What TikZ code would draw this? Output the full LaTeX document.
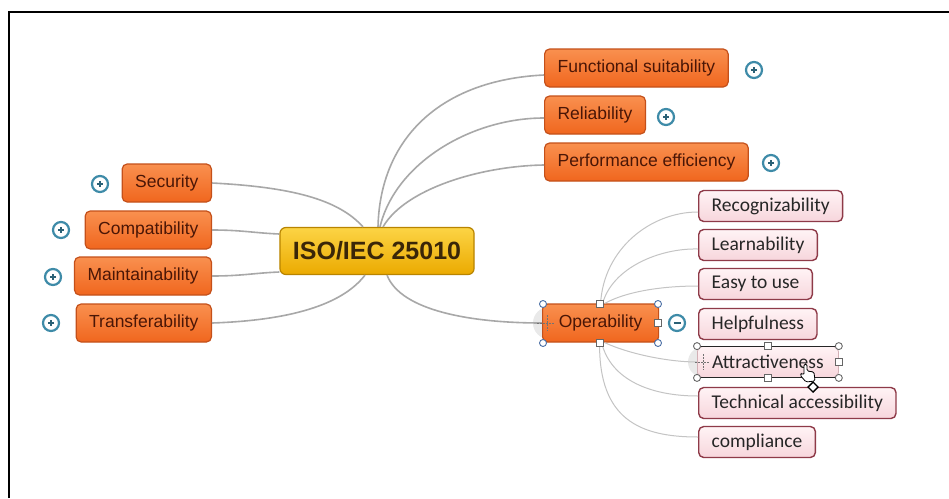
\documentclass[tikz,border=0pt]{standalone}
\usepackage{fontspec}
\setmainfont{Liberation Sans}
\newfontfamily\subfont{Carlito}
\definecolor{orgB}{HTML}{C4501A}
\definecolor{orgT}{HTML}{F9904F}
\definecolor{orgM}{HTML}{F0661E}
\definecolor{orgTxt}{HTML}{4A1606}
\definecolor{gldB}{HTML}{B88400}
\definecolor{gldT}{HTML}{FCD445}
\definecolor{gldM}{HTML}{EBAA00}
\definecolor{gldTxt}{HTML}{3A2608}
\definecolor{pnkB}{HTML}{8E3A48}
\definecolor{pnkT}{HTML}{FFF3F5}
\definecolor{pnkM}{HTML}{F7D6DC}
\definecolor{icn}{HTML}{3E8BA8}
\definecolor{hnd}{HTML}{4A6FA5}
\definecolor{lnk}{HTML}{A8A8A8}
\definecolor{sublnk}{HTML}{C4C4C4}
\tikzset{
  cent/.style={draw=gldB, line width=1.2pt, rounded corners=6pt, top color=gldT, bottom color=gldM,
    text=gldTxt, font=\bfseries\fontsize{25}{27}\selectfont, minimum height=47pt, inner xsep=13pt, inner ysep=0pt},
  mainbox/.style={draw=orgB, line width=1.2pt, rounded corners=5pt, top color=orgT, bottom color=orgM,
    text=orgTxt, font=\fontsize{17.5}{19}\selectfont, minimum height=38pt, inner xsep=13pt, inner ysep=0pt},
  subbox/.style={draw=pnkB, line width=1.4pt, rounded corners=5pt, top color=pnkT, bottom color=pnkM,
    text=black!85, font=\subfont\fontsize{19.5}{21}\selectfont, minimum height=31pt, inner xsep=13pt, inner ysep=0pt, anchor=west},
  iconc/.style={circle, draw=icn, line width=2.2pt, fill=white, minimum size=16pt, inner sep=0pt},
  iconmark/.style={draw=icn!70!black, line width=1.4pt},
  link/.style={draw=lnk, line width=1.6pt},
  sublink/.style={draw=sublnk, line width=1pt},
  hcirc/.style={circle, draw=hnd, line width=0.9pt, fill=white, minimum size=7pt, inner sep=0pt},
  hsq/.style={rectangle, draw=black!60, line width=0.9pt, fill=white, minimum size=6.5pt, inner sep=0pt},
  halo/.style={circle, fill=black!12, opacity=0.7, inner sep=0pt}
}
\begin{document}
\begin{tikzpicture}[x=1pt,y=-1pt]
\useasboundingbox (0,0) rectangle (949,498);
\fill[white] (0,0) rectangle (949,498);
\draw[line width=2pt] (9,498) -- (9,12) -- (949,12);

% halos
\node[halo, minimum size=32pt] (haloA) at (549,323) {};
\node[halo, minimum size=30pt] (haloB) at (703,362) {};

% centre
\node[cent] (iso) at (377,251) {ISO/IEC 25010};

% left nodes
\node[mainbox, anchor=east] (sec) at (212,183) {Security};
\node[mainbox, anchor=east] (com) at (212,230) {Compatibility};
\node[mainbox, anchor=east] (mai) at (212,276) {Maintainability};
\node[mainbox, anchor=east] (tra) at (212,323) {Transferability};

% right nodes
\node[mainbox, anchor=west] (fun) at (544,68) {Functional suitability};
\node[mainbox, anchor=west] (rel) at (544,115) {Reliability};
\node[mainbox, anchor=west] (per) at (544,162) {Performance efficiency};
\node[mainbox, anchor=west, minimum width=116pt] (ope) at (542,323) {Operability};

% sub nodes
\node[subbox] (rec) at (698,206) {Recognizability};
\node[subbox] (lea) at (698,245) {Learnability};
\node[subbox] (eas) at (698,284) {Easy to use};
\node[subbox] (hel) at (698,324) {Helpfulness};
\node[subbox, draw=pnkB!40, line width=0.8pt, minimum width=141pt] (att) at (697,362) {Attractiveness};
\node[subbox] (tec) at (698,403) {Technical accessibility};
\node[subbox] (cpl) at (698,442) {compliance};

% main links
\draw[link] ([xshift=1pt]iso.north) .. controls +(2,-88) and +(-104,5) .. ([yshift=-7pt]fun.west);
\draw[link] ([xshift=3pt]iso.north) .. controls +(15,-63) and +(-74,0) .. ([yshift=-3pt]rel.west);
\draw[link] ([xshift=6pt]iso.north) .. controls +(22,-38) and +(-64,1) .. ([yshift=-3pt]per.west);
\draw[link] (sec.east) .. controls +(78,4) and +(-25,-28) .. ([xshift=-14pt]iso.north);
\draw[link] (com.east) .. controls +(30,0) and +(-25,-1) .. ([yshift=17pt]iso.west);
\draw[link] (mai.east) .. controls +(30,0) and +(-25,1) .. ([yshift=-21pt]iso.west);
\draw[link] (tra.east) .. controls +(88,-3) and +(-20,26) .. ([xshift=-12pt]iso.south);
\draw[link] ([xshift=10pt]iso.south) .. controls +(14,36) and +(-70,0) .. (ope.west);

% sub links
\draw[sublink] (ope.north) .. controls +(3,-54) and +(-48,0) .. ([yshift=-6pt]rec.west);
\draw[sublink] ([xshift=2pt]ope.north) .. controls +(10,-36) and +(-38,-1) .. ([yshift=-4pt]lea.west);
\draw[sublink] ([xshift=4pt]ope.north) .. controls +(26,-14) and +(-28,0) .. ([yshift=-2pt]eas.west);
\draw[sublink] ([xshift=4pt]ope.south) .. controls +(26,12) and +(-27,0) .. (att.west);
\draw[sublink] ([xshift=1pt]ope.south) .. controls +(9,37) and +(-48,0) .. ([yshift=7pt]tec.west);
\draw[sublink] ([xshift=-1pt]ope.south) .. controls +(-1,77) and +(-58,0) .. ([yshift=5pt]cpl.west);

% plus icons
\foreach \n/\x/\y in {pSec/100/184, pCom/61/230, pMai/53/277, pTra/51/323, pFun/754/70, pRel/666/117, pPer/771/163}{
  \node[iconc] (\n) at (\x,\y) {};
  \draw[iconmark] (\n.center) +(-3,0) -- +(3,0) +(0,-3) -- +(0,3);
}
\node[iconc] (mOpe) at (677,323) {};
\draw[iconmark] (mOpe.center) +(-3.5,0) -- +(3.5,0);

% selection handles on Operability
\foreach \n/\x/\y in {oh1/543/304, oh2/658/304, oh3/543/343, oh4/658/343}{\node[hcirc] (\n) at (\x,\y) {};}
\foreach \n/\x/\y in {os1/600/304, os2/600/343, os3/658/323}{\node[hsq] (\n) at (\x,\y) {};}
\coordinate (mvA) at (547,323);
\draw[black!55, line width=0.9pt, dash pattern=on 1.5pt off 1.5pt] (mvA) +(-10,0) -- +(8,0) +(0,-8) -- +(0,8);

% selection on Attractiveness
\draw[black!85, line width=1.1pt] (att.north west) -- (att.north east) (att.south west) -- (att.south east);
\foreach \n/\a in {ah1/north west, ah2/north east, ah3/south west, ah4/south east}{\node[hcirc, draw=black!60] (\n) at (att.\a) {};}
\node[hsq] (as1) at (att.north) {};
\node[hsq] (as2) at (att.south) {};
\node[hsq] (as3) at (att.east) {};
\coordinate (mvB) at (703,362);
\draw[black!55, line width=0.9pt, dash pattern=on 1.5pt off 1.5pt] (mvB) +(-8,0) -- +(6,0) +(0,-8) -- +(0,8);

% cursor
\draw[fill=white, line width=0.8pt, rounded corners=1.5pt] (804,364) -- (807,364) -- (807,371) -- (814,372) -- (815,381) -- (806,382) -- (800,375) -- (802,373) -- (804,375) -- cycle;
\draw[fill=white, line width=1.4pt] (813,382) -- (818,387) -- (813,392) -- (808,387) -- cycle;
\end{tikzpicture}
\end{document}
